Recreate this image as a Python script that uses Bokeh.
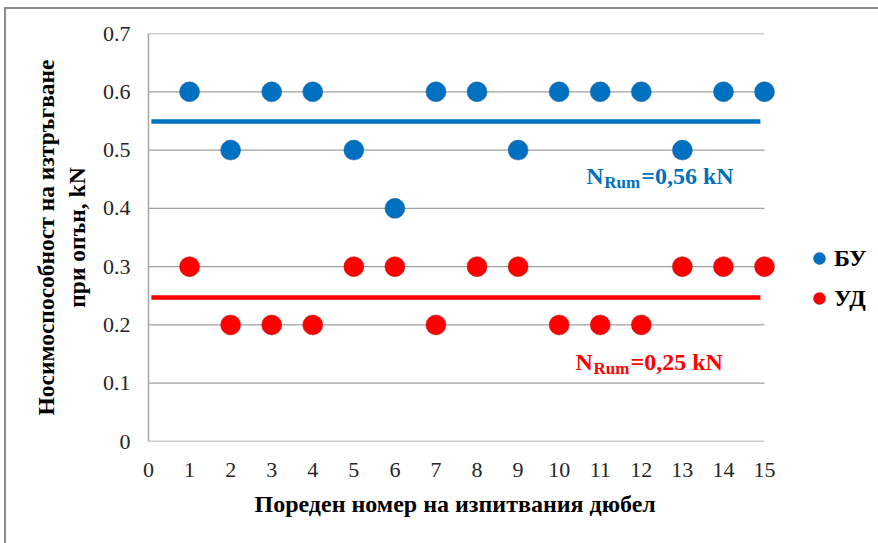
from bokeh.plotting import figure
from bokeh.models import Range1d, FixedTicker, Legend, LegendItem, Label, Title
from bokeh.embed import file_html
from bokeh.resources import INLINE

# ---- data ----
trials = list(range(1, 16))
bu_values = [0.6, 0.5, 0.6, 0.6, 0.5, 0.4, 0.6, 0.6, 0.5, 0.6, 0.6, 0.6, 0.5, 0.6, 0.6]
ud_values = [0.3, 0.2, 0.2, 0.2, 0.3, 0.3, 0.2, 0.3, 0.3, 0.2, 0.2, 0.2, 0.3, 0.3, 0.3]
series_names = ["БУ", "УД"]
mean_levels = [0.549, 0.247]          # drawn mean lines (as seen in the chart)
mean_texts = ["=0,56 kN", "=0,25 kN"]
x_ticks = list(range(0, 16))
y_ticks = [0, 0.1, 0.2, 0.3, 0.4, 0.5, 0.6, 0.7]
y_tick_labels = ["0", "0.1", "0.2", "0.3", "0.4", "0.5", "0.6", "0.7"]
x_label = "Пореден номер на изпитвания  дюбел"
y_label = "Носимоспособност на изтръгване\nпри опън, kN"

BLUE = "#0070C0"
RED = "#FF0000"
FONT = "Liberation Serif"

W, H = 878, 543
LEFT, TOP, BOTTOM = 148, 33, 102
px_per_unit = 616 / 15.0
x_end = (W - LEFT) / px_per_unit

p = figure(width=W, height=H, output_backend="svg", toolbar_location=None,
           x_range=Range1d(0, x_end), y_range=Range1d(0, 0.7),
           min_border_left=LEFT, min_border_right=0, min_border_top=TOP, min_border_bottom=BOTTOM)
p.outline_line_color = None
p.background_fill_color = "white"
p.border_fill_color = None
p.styles = {
    "background": "linear-gradient(#8c8c8c, #8c8c8c) 4px 7px / 2px 100% no-repeat, "
                  "linear-gradient(#8c8c8c, #8c8c8c) 4px 7px / 100% 2px no-repeat, white",
}
p.xgrid.visible = False
p.ygrid.visible = False

# gridlines as segments from 0 to 15
p.segment(x0=[x_ticks[0]] * len(y_ticks), x1=[x_ticks[-1]] * len(y_ticks), y0=y_ticks, y1=y_ticks,
          line_color="#a0a0a0", line_width=1.3)

# axes
p.xaxis.ticker = FixedTicker(ticks=x_ticks)
p.yaxis.ticker = FixedTicker(ticks=y_ticks)
p.yaxis.major_label_overrides = {t: s for t, s in zip(y_ticks, y_tick_labels)}
for ax in (p.xaxis[0], p.yaxis[0]):
    ax.major_tick_line_color = None
    ax.minor_tick_line_color = None
    ax.major_tick_out = 0
    ax.major_tick_in = 0
    ax.minor_tick_out = 0
    ax.major_label_text_font = FONT
    ax.major_label_text_font_size = "22px"
    ax.major_label_text_color = "#262626"
    ax.axis_label_text_font = FONT
    ax.axis_label_text_font_style = "bold"
    ax.axis_label_text_color = "black"
p.yaxis.axis_label_text_font_size = "23.5px"
p.xaxis.axis_line_color = None
p.yaxis.axis_line_color = "#a6a6a6"
p.yaxis.axis_line_width = 1.5
p.xaxis.major_label_standoff = 21
p.yaxis.major_label_standoff = 18
p.yaxis.axis_label = y_label
p.yaxis.axis_label_standoff = 10

# x-axis title, centred under the 0..15 part of the axis
p.add_layout(Title(text=x_label, align="left", offset=106, text_font=FONT, text_font_style="bold",
                   text_font_size="24px", text_color="black", standoff=19), "below")

# mean lines
p.segment(x0=[0.07], x1=[14.9], y0=[mean_levels[0]], y1=[mean_levels[0]], line_color=BLUE, line_width=4.5)
p.segment(x0=[0.07], x1=[14.9], y0=[mean_levels[1]], y1=[mean_levels[1]], line_color=RED, line_width=4.5)

# points
r_bu = p.scatter(trials, bu_values, size=20, fill_color=BLUE, line_color="#2a5f9e", line_alpha=0.5, line_width=1)
r_ud = p.scatter(trials, ud_values, size=20, fill_color=RED, line_color="#b02020", line_alpha=0.5, line_width=1)

legend = Legend(items=[LegendItem(label=series_names[0], renderers=[r_bu]),
                       LegendItem(label=series_names[1], renderers=[r_ud])],
                location=(656, 128), padding=0, margin=0, border_line_color=None,
                background_fill_alpha=0, glyph_width=30, glyph_height=30, label_standoff=-7,
                spacing=10, label_text_font=FONT, label_text_font_style="bold",
                label_text_font_size="24px", label_text_color="black")
p.add_layout(legend)

# annotations N_Rum = ...
ann = [(10.66, 0.456, BLUE, mean_texts[0]), (10.40, 0.137, RED, mean_texts[1])]
for x, y, c, t in ann:
    p.add_layout(Label(x=x, y=y, text="N", text_color=c, text_font=FONT, text_font_style="bold",
                       text_font_size="24px", text_baseline="middle"))
    p.add_layout(Label(x=x, y=y - 0.011, x_offset=18, text="Rum", text_color=c, text_font=FONT,
                       text_font_style="bold", text_font_size="17px", text_baseline="middle"))
    p.add_layout(Label(x=x, y=y, x_offset=55, text=t, text_color=c, text_font=FONT,
                       text_font_style="bold", text_font_size="24px", text_baseline="middle"))

open("out.html", "w").write(file_html(p, INLINE))
